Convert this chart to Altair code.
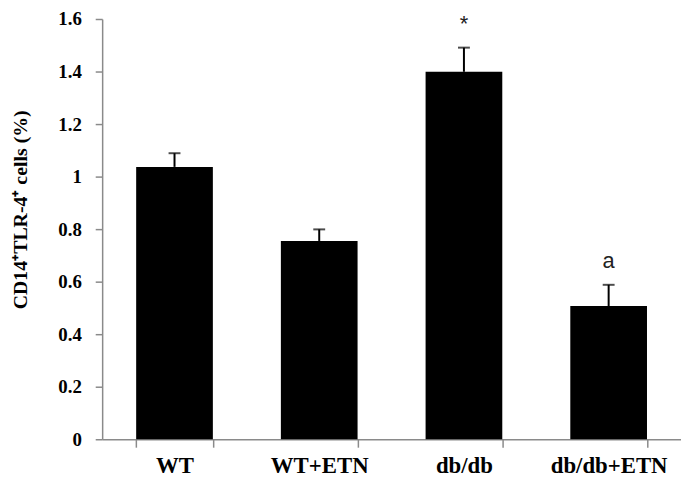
import altair as alt
import pandas as pd

groups = ["WT", "WT+ETN", "db/db", "db/db+ETN"]
values = [1.037, 0.755, 1.399, 0.507]
errors = [0.052, 0.044, 0.092, 0.081]
marks = ["", "", "*", "a"]

df = pd.DataFrame({"group": groups, "value": values, "err": errors, "mark": marks})
df["top"] = df["value"] + df["err"]

xenc = alt.X("group:N", sort=groups,
             scale=alt.Scale(paddingInner=0.47, paddingOuter=0.235),
             axis=alt.Axis(title=None, labelAngle=0, tickBand="extent",
                           labelFont="Liberation Serif", labelFontWeight="bold",
                           labelFontSize=23, labelColor="black", labelPadding=8,
                           domainColor="#8a8a8a", tickColor="#8a8a8a",
                           domainWidth=1.5, tickWidth=1.5, tickSize=8))

yscale = alt.Scale(domain=[0, 1.6], nice=False)

bars = alt.Chart(df).mark_bar(color="black").encode(
    x=xenc,
    y=alt.Y("value:Q", scale=yscale,
            axis=alt.Axis(values=[0, 0.2, 0.4, 0.6, 0.8, 1.0, 1.2, 1.4, 1.6],
                          format=".1~f", grid=False,
                          title="CD14\u207aTLR-4\u207a  cells (%)",
                          titleFont="Liberation Serif", titleFontWeight="bold",
                          titleFontSize=20, titleColor="black",
                          titleX=-72, titleY=192,
                          labelFont="Liberation Serif", labelFontWeight="bold",
                          labelFontSize=19, labelColor="black", labelPadding=14,
                          domainColor="#8a8a8a", tickColor="#8a8a8a",
                          domainWidth=1.5, tickWidth=1.5, tickSize=7)),
)

rules = alt.Chart(df).mark_rule(color="black", strokeWidth=2).encode(
    x=alt.X("group:N", sort=groups),
    y=alt.Y("value:Q", scale=yscale),
    y2="top:Q",
)

caps = alt.Chart(df).mark_tick(color="black", thickness=2, size=12, orient="horizontal").encode(
    x=alt.X("group:N", sort=groups),
    y=alt.Y("top:Q", scale=yscale),
)

labels = alt.Chart(df).mark_text(font="Liberation Sans", fontSize=22, color="#222222",
                                 baseline="middle", dy=-24).encode(
    x=alt.X("group:N", sort=groups),
    y=alt.Y("top:Q", scale=yscale),
    text="mark:N",
)

chart = alt.layer(bars, rules, caps, labels).properties(
    width=584, height=424,
    autosize=alt.AutoSizeParams(type="none"),
    padding={"left": 95, "top": 9, "right": 0, "bottom": 38},
).configure_view(stroke=None)

chart.save("out.html", embed_options={"renderer": "svg", "actions": False})
